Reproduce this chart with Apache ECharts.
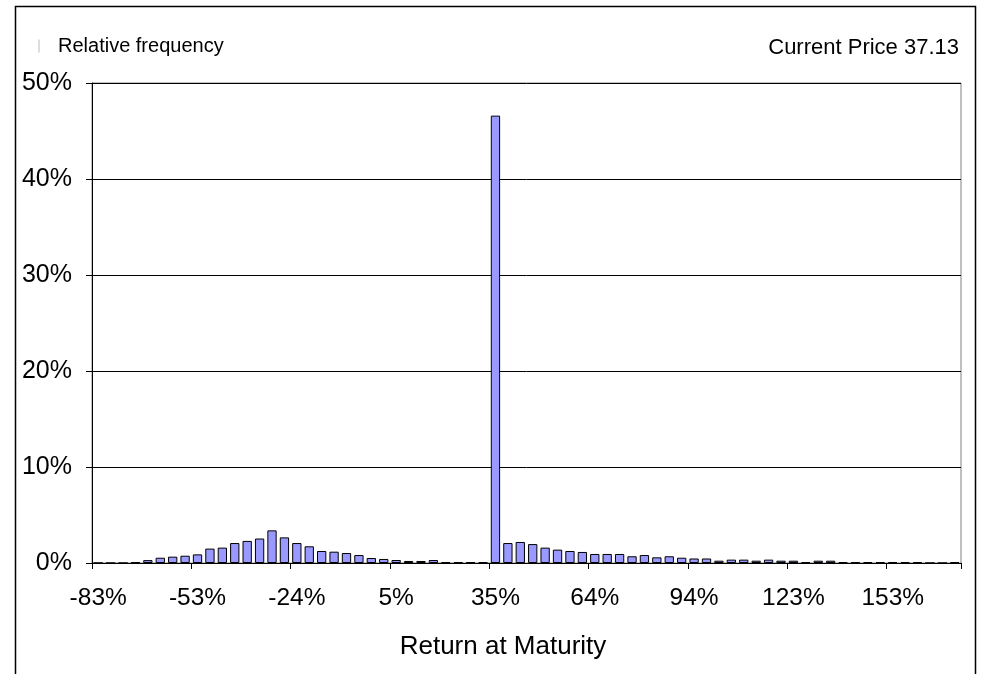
<!DOCTYPE html>
<html>
<head>
<meta charset="utf-8">
<script src="https://cdn.jsdelivr.net/npm/echarts@6/dist/echarts.min.js"></script>
<style>
html,body{margin:0;padding:0;background:#fff;}
#chart{width:985px;height:674px;}
</style>
</head>
<body>
<div id="chart"></div>
<script>
// Return-at-maturity bins (%)
var categories = [
  -83,-79,-76,-72,-68,-65,-61,-57,
  -53,-50,-46,-42,-39,-35,-31,-28,
  -24,-20,-17,-13,-9,-6,-2,2,
  5,9,13,16,20,24,27,31,
  35,38,42,46,50,53,57,61,
  64,68,72,75,79,83,87,90,
  94,98,101,105,109,112,116,120,
  123,127,131,135,138,142,146,149,
  153,157,160,164,168,172
];
// Relative frequency (%)
var frequency = [
  0,0,0,0.1,0.3,0.55,0.66,0.76,
  0.9,1.5,1.6,2.08,2.3,2.55,3.4,2.67,
  2.08,1.74,1.25,1.18,1.04,0.83,0.52,0.42,
  0.31,0.21,0.21,0.31,0.08,0.08,0.08,0.08,
  46.6,2.08,2.19,1.97,1.6,1.39,1.25,1.15,
  0.94,0.94,0.94,0.7,0.83,0.59,0.7,0.55,
  0.47,0.47,0.24,0.35,0.35,0.24,0.35,0.24,
  0.24,0.1,0.24,0.24,0.1,0.1,0.1,0.1,
  0.1,0.1,0.1,0,0,0.1
];
var yTicks = [0,10,20,30,40,50];
var seriesName = 'Relative frequency';
var titleText = 'Current Price 37.13';
var xTitle = 'Return at Maturity';

var FONT = '"Liberation Sans", Arial, sans-serif';
var chart = echarts.init(document.getElementById('chart'), null, {renderer:'canvas'});
chart.setOption({
  backgroundColor:'#ffffff',
  animation:false,
  title:{
    text:titleText, right:21, top:32,
    textStyle:{fontFamily:FONT, fontSize:22, fontWeight:'normal', color:'#000'}
  },
  legend:{
    data:[seriesName], left:33, top:31, icon:'rect', itemWidth:2, itemHeight:13,
    itemStyle:{color:'#dddddd', borderWidth:0},
    textStyle:{fontFamily:FONT, fontSize:20, color:'#000', padding:[0,0,0,13]}
  },
  grid:{left:92, right:24, top:83, bottom:111, show:true, borderColor:'#808080', borderWidth:1, backgroundColor:'transparent'},
  xAxis:{
    type:'category', data:categories, boundaryGap:true,
    axisLine:{lineStyle:{color:'#000', width:1}},
    axisTick:{show:true, interval:7, length:6, lineStyle:{color:'#000'}},
    axisLabel:{interval:7, margin:23, color:'#000', fontFamily:FONT, fontSize:24.5,
      formatter:function(v){return v+'%';}},
    splitLine:{show:false}
  },
  yAxis:{
    type:'value', min:yTicks[0], max:yTicks[yTicks.length-1], interval:10,
    axisLine:{show:true, lineStyle:{color:'#000', width:1}},
    axisTick:{show:true, length:6, lineStyle:{color:'#000'}},
    axisLabel:{margin:20, color:'#000', fontFamily:FONT, fontSize:25, formatter:'{value}%', padding:[6,0,0,0]},
    splitLine:{show:true, lineStyle:{color:'#000', width:1}}
  },
  series:[{
    name:seriesName, type:'bar', data:frequency, barCategoryGap:'25%',
    itemStyle:{color:'#9999ff', borderColor:'#000', borderWidth:1}
  }],
  graphic:[
    {type:'rect', shape:{x:15.5, y:6.5, width:960, height:720}, style:{fill:'none', stroke:'#000', lineWidth:1.5}, silent:true, z:-1},
    {type:'text', x:503, y:647, style:{text:xTitle, fontFamily:FONT, fontSize:26, fill:'#000', textAlign:'center', textVerticalAlign:'middle'}}
  ]
});
</script>
</body>
</html>
